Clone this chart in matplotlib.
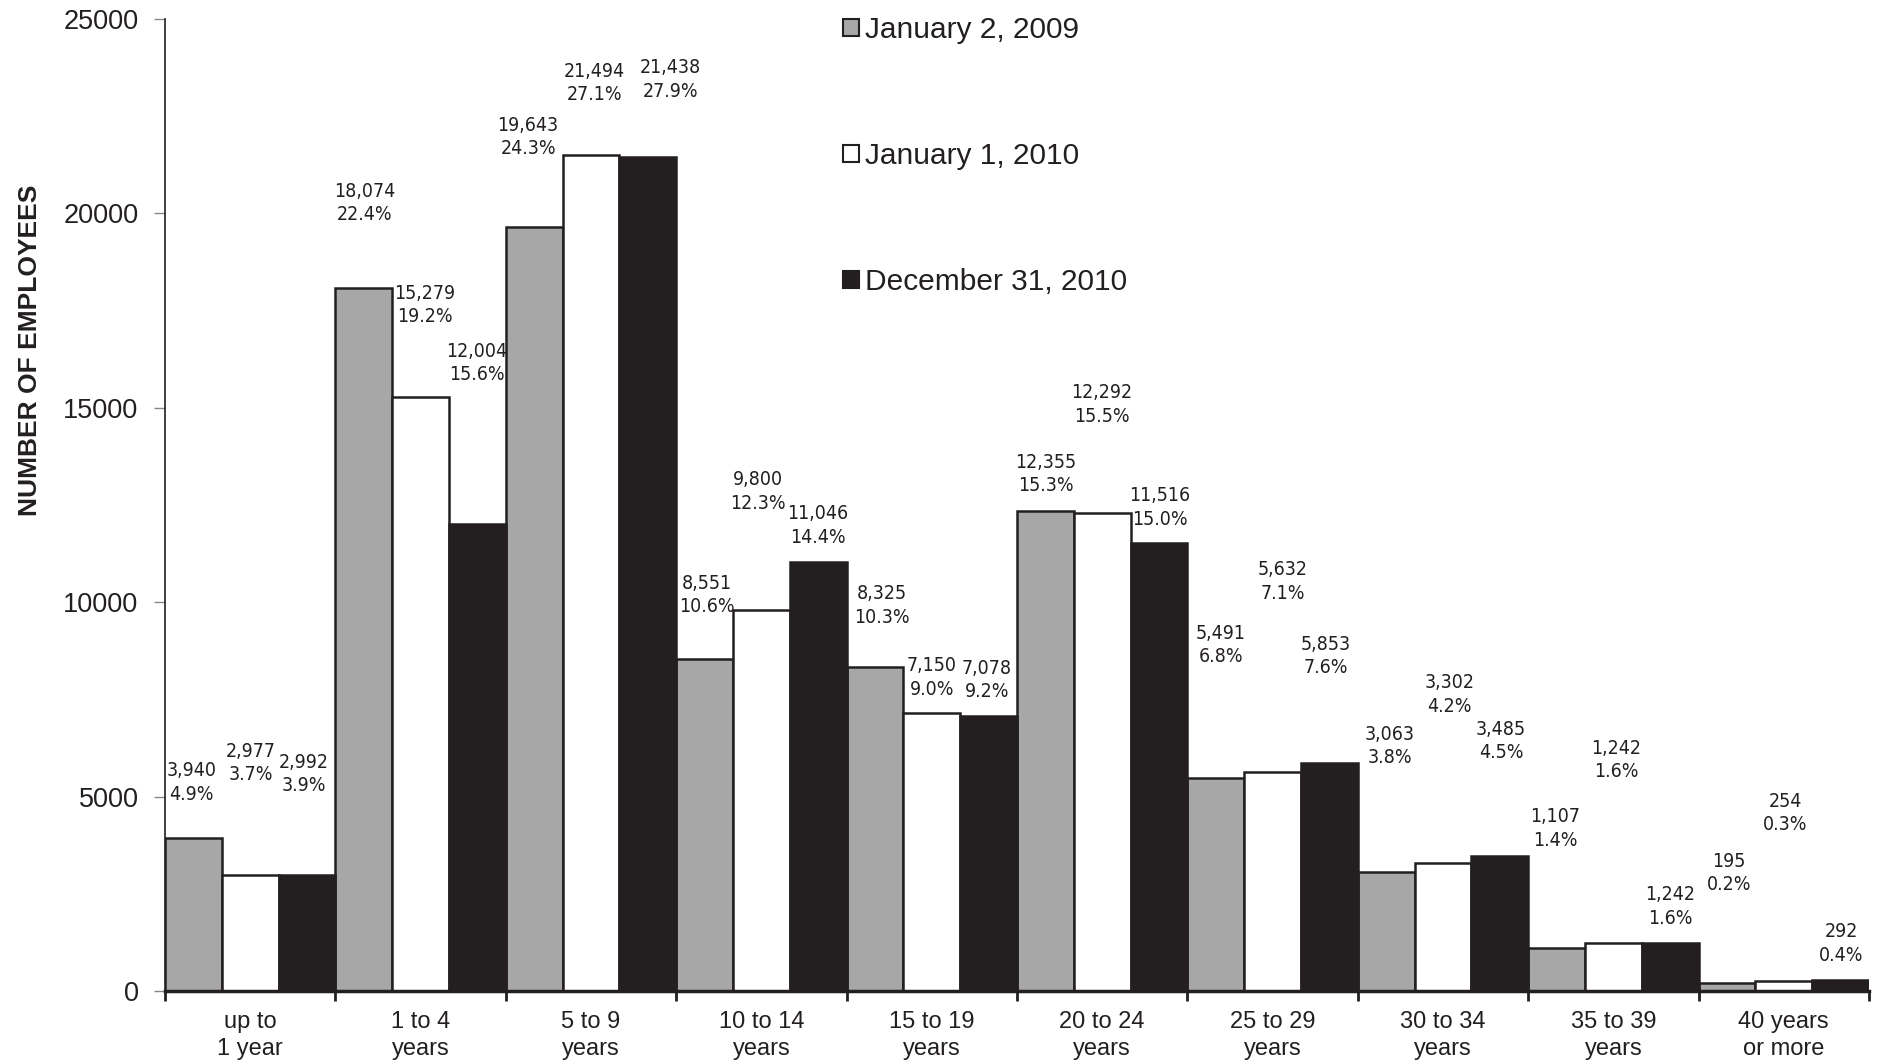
import matplotlib
matplotlib.use("Agg")
import matplotlib.pyplot as plt
from matplotlib.patches import Patch
from matplotlib import font_manager
import numpy as np

categories = ["up to\n1 year", "1 to 4\nyears", "5 to 9\nyears", "10 to 14\nyears",
              "15 to 19\nyears", "20 to 24\nyears", "25 to 29\nyears", "30 to 34\nyears",
              "35 to 39\nyears", "40 years\nor more"]
series_names = ["January 2, 2009", "January 1, 2010", "December 31, 2010"]
jan2009 = [3940, 18074, 19643, 8551, 8325, 12355, 5491, 3063, 1107, 195]
jan2010 = [2977, 15279, 21494, 9800, 7150, 12292, 5632, 3302, 1242, 254]
dec2010 = [2992, 12004, 21438, 11046, 7078, 11516, 5853, 3485, 1242, 292]
pct2009 = ["4.9%", "22.4%", "24.3%", "10.6%", "10.3%", "15.3%", "6.8%", "3.8%", "1.4%", "0.2%"]
pct2010a = ["3.7%", "19.2%", "27.1%", "12.3%", "9.0%", "15.5%", "7.1%", "4.2%", "1.6%", "0.3%"]
pct2010b = ["3.9%", "15.6%", "27.9%", "14.4%", "9.2%", "15.0%", "7.6%", "4.5%", "1.6%", "0.4%"]
yticks = [0, 5000, 10000, 15000, 20000, 25000]

# layout: label anchor positions (data coords) as placed in the original
label_x = [[-0.345, 0.674, 1.631, 2.679, 3.705, 4.669, 5.696, 6.687, 7.657, 8.677],
           [0.006, 1.026, 2.018, 2.981, 4.001, 4.999, 6.061, 7.039, 8.016, 9.008],
           [0.316, 1.328, 2.468, 3.333, 4.324, 5.337, 6.314, 7.341, 8.333, 9.338]]
label_y = [[5364, 20271, 21966, 10189, 9912, 13303, 8895, 6305, 4178, 3037],
           [5858, 17650, 23354, 12841, 8062, 15091, 10529, 7631, 5935, 4578],
           [5580, 16155, 23446, 11977, 8000, 12440, 8617, 6428, 2173, 1218]]

DARK = "#231f20"
GRAY = "#a7a7a7"
colors = [GRAY, "white", DARK]
series = [jan2009, jan2010, dec2010]
pcts = [pct2009, pct2010a, pct2010b]

# pick a condensed face if one is installed
narrow_fp = None
for f in font_manager.fontManager.ttflist:
    if f.name == "DejaVu Sans" and f.stretch == "condensed" and f.style == "normal" and f.weight in (400, "normal"):
        narrow_fp = font_manager.FontProperties(fname=f.fname, size=14)
        break
if narrow_fp is None:
    for f in font_manager.fontManager.ttflist:
        if "Narrow" in f.name or "Condensed" in f.name:
            narrow_fp = font_manager.FontProperties(fname=f.fname, size=14)
            break
if narrow_fp is None:
    narrow_fp = font_manager.FontProperties(family="Liberation Sans", size=13)

plt.rcParams['font.family'] = ['Liberation Sans', 'DejaVu Sans']
fig = plt.figure(figsize=(18.79, 10.60), dpi=100)
ax = fig.add_axes([165/1879, 69/1060, 1704/1879, 972/1060])

x = np.arange(len(categories))
w = 1/3
for k, (vals, col) in enumerate(zip(series, colors)):
    ax.bar(x + (k - 1) * w, vals, width=w, color=col, edgecolor=DARK,
           linewidth=1.8, label=series_names[k], zorder=2)
    for i, v in enumerate(vals):
        ax.text(label_x[k][i], label_y[k][i], f"{v:,}\n{pcts[k][i]}",
                ha="center", va="center", color=DARK,
                fontproperties=narrow_fp, linespacing=1.3)

ax.set_xlim(-0.5, len(categories) - 0.5)
ax.set_ylim(0, 25000)
ax.set_yticks(yticks)
ax.set_yticklabels([str(t) for t in yticks], fontsize=19.5, color=DARK)
ax.tick_params(axis='y', direction='out', length=8, width=1, color="#888888", pad=11)

ax.set_xticks(np.arange(-0.5, len(categories)), labels=[""] * (len(categories) + 1))
ax.tick_params(axis='x', which='major', direction='out', length=7, width=2, color=DARK)
ax.set_xticks(x, minor=True)
ax.set_xticklabels(categories, minor=True, fontsize=17, color=DARK, linespacing=1.27)
ax.tick_params(axis='x', which='minor', length=0, pad=14.5)

for s in ["top", "right"]:
    ax.spines[s].set_visible(False)
ax.spines["left"].set_linewidth(1.2)
ax.spines["left"].set_color(DARK)
ax.spines["bottom"].set_linewidth(2.5)
ax.spines["bottom"].set_color(DARK)

ax.set_ylabel("NUMBER OF EMPLOYEES", fontsize=19, fontweight="bold", color=DARK)
ax.yaxis.set_label_coords(-0.072, 0.659)

handles = [Patch(facecolor=c, edgecolor=DARK, linewidth=1.5) for c in colors]
leg = ax.legend(handles, series_names, loc="upper left", bbox_to_anchor=(0.398, 1.003),
                frameon=False, fontsize=21.5, labelspacing=3.28, handlelength=0.54,
                handleheight=0.54, handletextpad=0.2, borderpad=0, borderaxespad=0)
for t in leg.get_texts():
    t.set_color(DARK)

fig.savefig("out.png", dpi=100)
